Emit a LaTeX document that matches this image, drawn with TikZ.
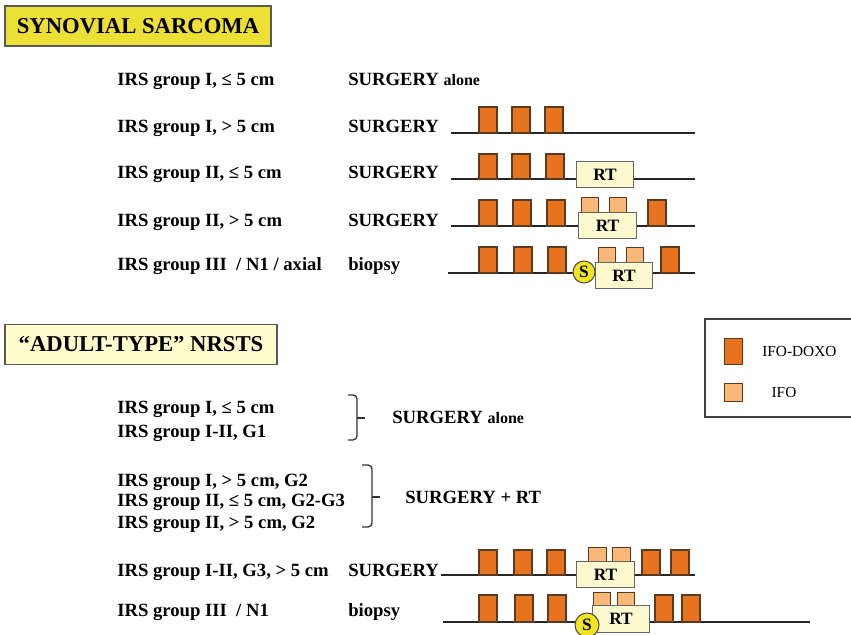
\documentclass[tikz,border=0pt]{standalone}
\usepackage{fontspec}
\setmainfont{Liberation Serif}
\usetikzlibrary{positioning}

\definecolor{doxoorange}{HTML}{E8731E}
\definecolor{ifopeach}{HTML}{F9B878}
\definecolor{rtcream}{HTML}{FCF9CF}
\definecolor{titleyellow}{HTML}{ECE034}
\definecolor{titlecream}{HTML}{FFFDCB}
\definecolor{surgyellow}{HTML}{F2E41E}
\definecolor{edgebrown}{HTML}{5A3B22}

\begin{document}
\begin{tikzpicture}[
  x=0.75pt, y=-0.75pt,
  font=\bfseries\fontsize{14}{16}\selectfont,
  title/.style={draw=black!65, line width=1.2pt, minimum height=30pt,
    inner sep=0pt, font=\bfseries\fontsize{17}{19}\selectfont},
  lab/.style={anchor=base west, inner sep=0pt},
  axis/.style={line width=1.5pt, black!85},
  doxo/.style={draw=edgebrown, line width=0.8pt, fill=doxoorange},
  ifo/.style={draw=edgebrown, line width=0.6pt, fill=ifopeach},
  rt/.style={draw=black!60, line width=0.8pt, fill=rtcream,
    minimum width=43pt, minimum height=20pt, inner sep=0pt,
    font=\bfseries\fontsize{13}{15}\selectfont},
  surg/.style={circle, draw=black!70, line width=0.8pt, fill=surgyellow,
    minimum size=16.5pt, inner sep=0pt,
    font=\bfseries\fontsize{13}{15}\selectfont},
  brace/.style={line width=1pt, black!80, rounded corners=3pt},
  key/.style={draw=edgebrown, line width=0.8pt, minimum width=14pt, inner sep=0pt},
  keytext/.style={font=\fontsize{11.5}{13}\selectfont, inner sep=0pt},
]
  \useasboundingbox (0,0) rectangle (851,635);

  % titles
  \node[title, fill=titleyellow, minimum width=199.5pt] (syn) at (138,26) {SYNOVIAL SARCOMA};
  \node[title, fill=titlecream, minimum width=204pt] (adult) at (141,344.5) {``ADULT-TYPE'' NRSTS};

  % synovial sarcoma groups
  \node[lab] (s1) at (117,86) {IRS group I, ≤ 5 cm};
  \node[lab] (s2) at (117,133) {IRS group I, > 5 cm};
  \node[lab] (s3) at (117,179) {IRS group II, ≤ 5 cm};
  \node[lab] (s4) at (117,226) {IRS group II, > 5 cm};
  \node[lab] (s5) at (117,271) {IRS group III~ / N1 / axial};

  \node[lab] (t1) at (348,86) {SURGERY {\fontsize{12}{14}\selectfont alone}};
  \node[lab] (t2) at (348,133) {SURGERY};
  \node[lab] (t3) at (348,179) {SURGERY};
  \node[lab] (t4) at (348,226) {SURGERY};
  \node[lab] (t5) at (348,271) {biopsy};

  % row 2
  \draw[axis] (451,133) -- (695,133);
  \foreach \x in {479,512,545}
    \draw[doxo] (\x,107) rectangle ++(18,26);

  % row 3
  \draw[axis] (451,179) -- (695,179);
  \foreach \x in {479,512,546}
    \draw[doxo] (\x,154) rectangle ++(18,25);
  \node[rt] (rt3) at (605,174.5) {RT};

  % row 4
  \draw[axis] (451,226) -- (695,226);
  \foreach \x in {479,513,547,648}
    \draw[doxo] (\x,200) rectangle ++(18,26);
  \foreach \x in {581,609}
    \draw[ifo] (\x,197) rectangle ++(17,17);
  \node[rt] (rt4) at (607.5,225.5) {RT};

  % row 5
  \draw[axis] (448,273) -- (695,273);
  \foreach \x in {479,514,548,661}
    \draw[doxo] (\x,247) rectangle ++(18,26);
  \foreach \x in {598,626}
    \draw[ifo] (\x,247) rectangle ++(17,16);
  \node[rt] (rt5) at (624,275.5) {RT};
  \node[surg] (sg5) at (584,272) {S};

  % legend
  \draw[black!75, line width=0.8pt] (852,319) -| (705,417) -- (852,417);
  \node[key, fill=doxoorange, minimum height=20pt] (keydoxo) at (733.5,351.5) {};
  \node[keytext, right=14pt of keydoxo] (keydoxotext) {IFO-DOXO};
  \node[key, fill=ifopeach, minimum height=14pt] (keyifo) at (733.5,392.5) {};
  \node[keytext, right=21pt of keyifo] (keyifotext) {IFO};

  % adult-type groups
  \node[lab] (a1) at (117,413) {IRS group I, ≤ 5 cm};
  \node[lab] (a2) at (117,437) {IRS group I-II, G1};
  \node[lab] (a3) at (117,486) {IRS group I, > 5 cm, G2};
  \node[lab] (a4) at (117,506) {IRS group II, ≤ 5 cm, G2-G3};
  \node[lab] (a5) at (117,528) {IRS group II, > 5 cm, G2};
  \node[lab] (a6) at (117,576) {IRS group I-II, G3, > 5 cm};
  \node[lab] (a7) at (117,616) {IRS group III~ / N1};

  % braces
  \draw[brace] (348,395) -| (357,440) -- (348,440);
  \draw[line width=1pt, black!80] (357,418) -- (365,418);
  \draw[brace] (362,465) -| (372,527) -- (362,527);
  \draw[line width=1pt, black!80] (372,497) -- (380,497);

  \node[lab] (b1) at (392,423) {SURGERY {\fontsize{12}{14}\selectfont alone}};
  \node[lab] (b2) at (405,503) {SURGERY + RT};
  \node[lab] (b3) at (348,576) {SURGERY};
  \node[lab] (b4) at (348,616) {biopsy};

  % row A
  \draw[axis] (441,575) -- (695,575);
  \foreach \x in {479,514,547,642,671}
    \draw[doxo] (\x,550) rectangle ++(18,25);
  \foreach \x in {588,612}
    \draw[ifo] (\x,547) rectangle ++(18,16);
  \node[rt] (rtA) at (605.5,574.5) {RT};

  % row B
  \draw[axis] (443,622) -- (810,622);
  \foreach \x in {479,515,548,655,682}
    \draw[doxo] (\x,595) rectangle ++(18,27);
  \foreach \x in {593,617}
    \draw[ifo] (\x,592) rectangle ++(17,15);
  \node[rt] (rtB) at (621,619) {RT};
  \node[surg, minimum size=18pt] (sgB) at (587,625) {S};
\end{tikzpicture}
\end{document}
